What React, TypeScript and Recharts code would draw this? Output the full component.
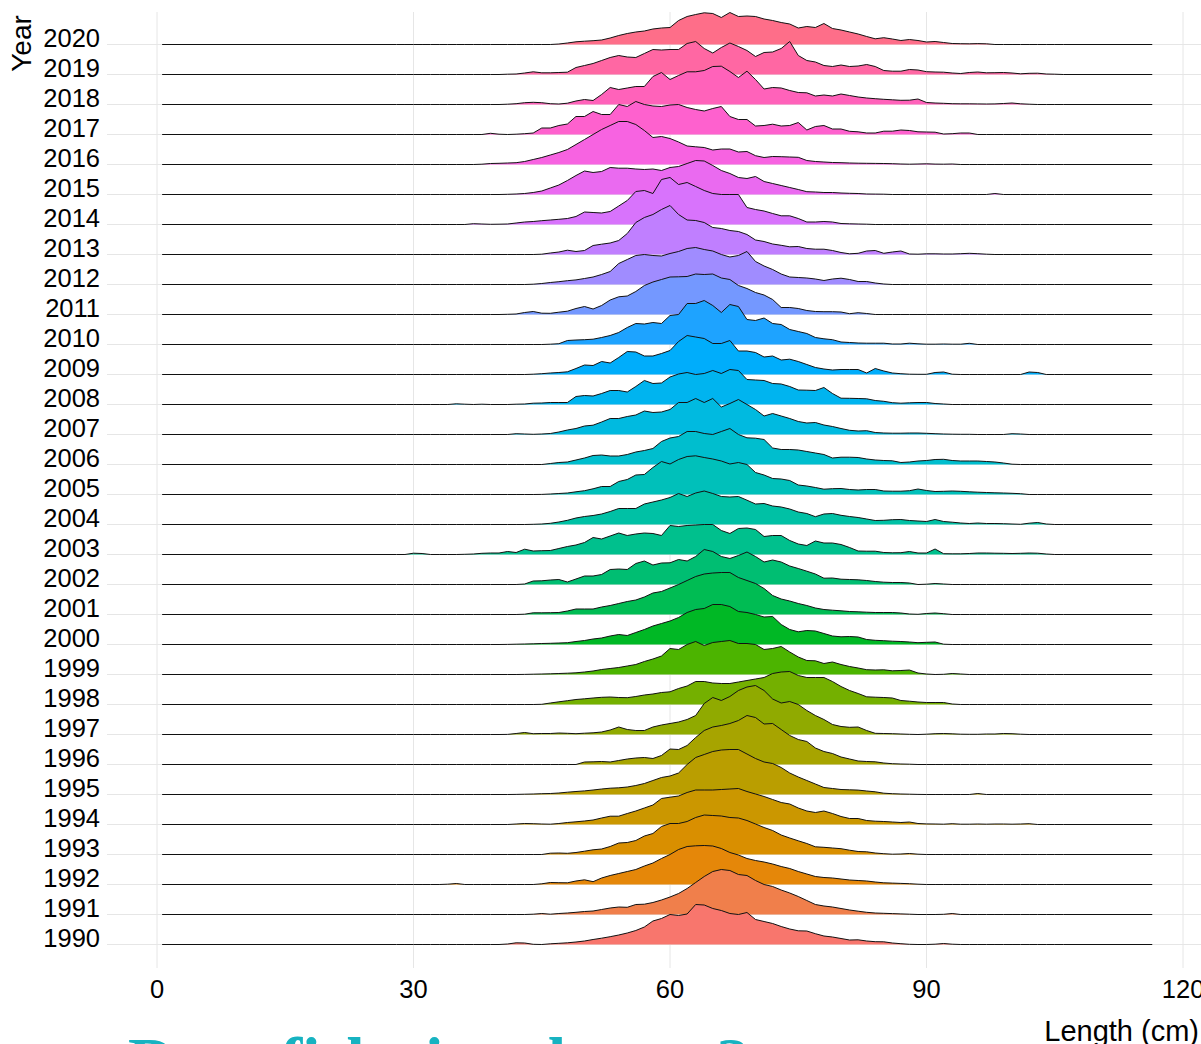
import React from "react";
import { Area, CartesianGrid, ComposedChart, Label, XAxis, YAxis } from "recharts";

// ridgeline of fish length by year; heights (px, rows 30px apart)
const years = [1990, 1991, 1992, 1993, 1994, 1995, 1996, 1997, 1998, 1999, 2000, 2001, 2002, 2003, 2004, 2005, 2006, 2007, 2008, 2009, 2010, 2011, 2012, 2013, 2014, 2015, 2016, 2017, 2018, 2019, 2020];
// first 1-cm bin of each year's array
const ridgeStart = [41, 44, 34, 45, 42, 42, 49, 41, 45, 43, 41, 43, 43, 29, 44, 45, 46, 42, 35, 44, 45, 41, 44, 45, 37, 41, 38, 38, 41, 41, 47];
const xTicks = [0, 30, 60, 90, 120];

const len1990 = [0.5,1.7,1.5,0.2,0,0.7,1.2,1.7,2.5,3.5,5,6.3,7.8,9.5,11.5,14,17.5,23.5,26,30,29,30.5,40,39.5,36,34,31,30,32,25,23,21,18,15.5,13.7,13.5,10.8,8.5,7.5,6,4.5,4.7,3.5,2.8,2.7,1.5,0.8,0.2,0,0,0.3,1,0.3,0];
const len1991 = [0.3,1,0.3,1,1.5,2.2,3,3.5,5,6.5,7.5,7.2,10,10.3,12,14.5,17.5,21,26,32,38,43,45,44,40,39,34,30,28,24.5,21.5,18,14,10,8.5,7.5,6,4.5,3.3,2.2,1.5,1.2,0.9,0.6,0.3,0,0,0,0.2,1,0];
const len1992 = [0.3,1,0,0,0,0,0,0,0,0,0,0.7,2,1.8,1.7,3.5,4.7,2.8,6.5,9,11,13,15,18.5,21.5,26,30,35,38,38.7,39,38.5,36,32,29.5,26,24,22.5,20.5,18,16,13,10.5,8,7,6.5,5.5,4.5,4,3.5,2.5,1.7,1.4,1.1,0.8,0.3,0];
const len1993 = [0,1.3,1.5,1.2,2,3.3,4.7,5.5,8,11.5,12,14,18.5,21,28,31,31,33,37,39.5,39,38.5,37,36.5,34,30.5,27,24,19.5,16.5,13.7,11,7.7,7.2,6.5,5.8,4.3,3,2.7,1.5,0.8,0.3,0.5,1,0.3,0];
const len1994 = [0.5,1,0.8,0.5,0.3,1,2,2.7,3.5,4.5,6.5,8.3,8.3,11,13.5,16.5,19.5,26,27.3,28.5,32,34.5,34.5,34.5,35,35.5,36,33,30.5,28,25,22,20.5,16.5,13.5,12,13.5,11,8,6,6,4,3.3,3,2.5,2,2.5,1,0.6,0.5,0.3,0.8,0.3,0.3,0.5,0.3,0.5,0.5,0.3,0.5,0.8,0];
const len1995 = [0.1,0.3,0.5,0.8,1,1.5,2.3,3,3.6,4.5,5.5,6.3,6.7,7.5,9,11,14,17,18.5,21.5,30,37,40,43,44.5,45,45,40.5,36,32.5,31,27,21.5,17.5,14,10.5,7,6,5,4.7,4.4,3.5,2.7,1.3,0.8,0.5,0.3,0.1,0,0,0,0,0,0,1,0];
const len1996 = [0,2.5,2.7,3,2.5,4,5.5,6.5,7,6,9,15.5,15,19,27,34,37.5,39,41,44,49,47,40.5,41,35,29,25,23,16.5,13,11,7.5,5.5,3.5,3,2.7,1.5,0.8,0.5,0.3,0];
const len1997 = [0.1,1,2,0.8,1,1,1.5,1.2,0.8,1.3,1.7,2.5,4.5,7.5,5,4,4,7.5,9.5,11,12.5,15,19,31,37,34,38,44,47.5,49,44,35.5,31.5,33,30,24,19,15,10,8,7.2,7.5,4,1.2,1,0.8,0.5,0.2,0,0.3,0.8,1,0.7,0.3,0.2,0.2,0.5,0.5,1,0.8,0.3,0];
const len1998 = [0.2,1.5,2.7,3.8,5,5.7,6.5,7.2,7.5,7,6.8,8,9.5,10.5,12,12.7,16,18.5,23,23,21.5,21,21,22.5,24,25.5,27,31,32.5,33,29,27,27,27,23,18,14,11,7.7,7.3,7,6.5,4,3.3,2.5,2,2,2,0.5,0];
const len1999 = [0.1,0.3,0.5,0.7,1,1.3,1.7,2.5,3.5,5,6,7,8.5,10,13,15.5,18.5,26,25,30,33,29,32,33,34,31,31,30,25,26,28,22.5,17.5,14,13.7,11,12.5,10,8,6.5,4.8,4.5,4.7,3.7,4,4.5,1.5,0.5,0,0.2,1,0.5,0];
const len2000 = [0.1,0.3,0.5,0.7,1,1.2,1.5,1.8,3,4,5.5,6.5,8.5,10,9,12,15,18.5,21,23.5,27,32,35,36,40,40,38,33,32,30,27.5,28,20,15,12.7,14,13.5,11,8.5,7.7,8,7.5,5,4.2,3.8,3.3,3,2.5,1.8,2.2,2.5,0.3,0];
const len2001 = [0.3,1.7,1.7,1.8,2,3.5,5.5,5.5,5.5,7.5,9,11,13,14.5,17.5,21.5,23,26.5,30,34,38,40.5,41.5,42,42,37,34,31,26,19,15.5,13.5,11,9,6.5,5,4.3,3.7,3,2.7,2.3,2,2,2,1.5,0.5,0.2,1,1.5,0.8,0];
const len2002 = [0.5,3.5,3.7,4.5,5,2.5,5.5,8.5,8.5,10,15,15.5,15,21,23.5,19.5,21.5,21.7,25,23.5,28,35,33,28,26,29,32.5,28,22.5,24.5,22.5,18.5,16,13.3,10.5,6.3,6.5,5.3,5,4.7,4,3,2.3,2,2,1.5,0,0.3,1,0.5,0];
const len2003 = [0,1.3,1,0,0,0,0,0.2,0.5,1.2,1.5,1.5,3,2,5.3,3.5,3.8,4,6,8,9.5,12,17,15.5,18.5,21.5,19,20.5,21.5,21,19,29,28,29,29.5,30,30,24,21,26,26.5,25,18,19,19,14,10.5,9,13.5,11.5,11.5,10,7,3.5,3.3,3.3,2,1.7,1.8,3,1.5,1.5,5.5,0.8,0.7,0.7,1,1.5,1.5,1.3,1.2,1,1.2,1.5,1.3,0.5,0];
const len2004 = [0.2,0.5,1.2,2.5,4.2,6.5,8,9,10.5,13,16,16,16,20.5,22.5,24.5,27,31,28,31.5,33.5,31,28,27.5,28,24.3,20.5,21,18.5,17.5,15.5,12.5,11,7.8,10.5,11,9.2,8,7,5.5,4,4.2,4.8,5,4,3.5,3,5,3,2.3,1.5,1,1.5,1,1,0.8,0.5,0.2,1.3,2,0.5,0];
const len2005 = [0.1,0.5,1,1.5,2.7,3.8,5.7,8,8,13,15,19.5,20,27,33,30.5,35,38,38.7,37,35.5,33.5,30.5,32,30,22,19.5,16,15.5,14,9.5,8.5,7,5.3,5.8,6,5,4.5,5,5,3.5,3.3,3.3,3.8,5.5,4,3,3.2,3.5,3.2,2.7,2.3,2,1.7,1.5,1.2,0.8,0];
const len2006 = [1,2,2.5,4.5,6.5,9,9.5,8.5,8.5,10,12.5,14,16,23,26.5,28,33,33,31,30,33,36,30,26.7,26.3,25,16.5,15,15,14.5,13,11.5,10,6.5,7.3,7.3,7,5.5,4.5,4,3.7,2,2.5,3.5,4,5,5.2,4,3.5,3.5,3.5,3,2.5,1.5,0.3,0];
const len2007 = [0.8,0.5,0.2,0.5,1,2.5,4.5,6,8.5,9.3,12.5,16,16,18,19.5,23.5,22,22.5,25,32,32,36,32,36,27.5,31,35,30,25,18.5,21,18.5,16,13,11.5,12,9.5,8,6,4.2,3.5,3.8,2,1.5,1.3,1.3,1.5,1.5,1.2,0.8,0.5,0.3,0.2,0.2,0,0,0,0,0.8,0.5,0];
const len2008 = [0.7,0.3,0,0.3,0,0,0,0.3,0.5,1.3,1.5,2,2,2,8,9,8.5,11,14,14,12.5,18,24,21,21.5,27.5,30.5,32,30,31,34,31,35,34,25,24.5,24,21,20.5,18,14.5,14.3,14,17,11,6.3,6.2,6,5.7,4,3.2,1.8,1.3,1.7,2,2,1,0.5,0];
const len2009 = [0.3,0.8,1.5,2,2.7,6,9.5,9,13,11.5,17,23,22.5,18.5,18.5,21,24,33,39,37.5,36,31,31,34,23.5,23.5,22,17.5,18.5,14.5,15.3,13,10,7,5.5,4.5,5,5,5,1.5,6,3.5,1.5,0.8,0.3,0.2,0.2,2,2.5,0.3,0,0,0,0,0,0,0,0,2.5,2,0];
const len2010 = [0,0.3,0.8,4,4.5,4.8,5.3,7,9,12,17,21,20.5,22,21,29,30,41,41,44,39,32,40,38,25,24,26.5,21,20,15,13,11,7,5.7,4.8,2.5,2,1.5,1.3,1.3,1.3,0.5,0.5,1.3,0.7,0.3,0.3,0.5,0.3,0.3,1.2,0];
const len2011 = [0.2,0.5,2,3,1.3,1.2,2.3,3.3,6,8,5.5,9,14.5,17.7,18.5,23,29,32.5,35,37.5,37.7,38,40.5,40,40.5,36.5,35,29,26,22,19.5,15,7,7,6,4,3,2.8,2.8,2.5,0.8,1.8,1,0];
const len2012 = [0.3,1,2,2.8,3.8,4.6,6,7.5,10,13,21,25,29,30,29,28.5,31,33,36,37,35,33.5,30,27.5,29,33,23,18.5,15,10.5,7.5,7,6.5,5.5,4,5.5,6.3,5,3,3,1.5,0.5,0];
const len2013 = [0.3,1.5,2.5,4.3,3,4,9,10.3,11.5,14,21,32,37,40,45,49,40,34.5,34,32,27,26,24,23,20,14.5,13,10.5,9.2,7.7,8,6,5.3,5.3,4,2,0.7,1.2,3.5,4,1.2,2.5,3.5,0.5,0.3,0.7,0.7,0.5,0.5,0.8,1.2,0.8,0.3,0];
const len2014 = [0.8,0.5,0.2,0.3,0.5,1.5,2.5,3,3.8,4.5,5.2,6,8,12.5,12,11.5,13,18.5,24,33,34,31,45,47,40,42,38,34,31,30,30,30,17,15,13.5,11,8.7,8.7,6,2.5,2.5,3,2.5,1,0.7,0.5,0.3,0];
const len2015 = [0.2,0.5,1,2,3.5,6.5,9.5,14,19,23.5,22,23,27,26.3,26.3,25.5,25,25.5,24,27,28,31,34,33.5,29,24,21,17,16,18,13,11,9,7,5,2.8,2.5,2,2,1.5,1.2,1,0.5,0.4,0.3,0,0,0,0,0,0,0,0,0,0,0,0,1,0];
const len2016 = [0.3,1,1.2,1.5,1.8,3,5,7,9.5,12,15,20,25,30,35,39,43,43,40,34,27,28,26,22.5,18.5,17.7,17,14.5,15.5,15.5,12.5,13,8.8,7,8,7.8,7.5,7.2,4,3,2.5,2,1.8,1.5,1.3,1.2,1.1,1,0.8,0.5,0.3,0.5,0.7,0.4,0.3,0.5,0];
const len2017 = [0,1.2,0.3,0,0.3,0.8,1.5,6.5,6.5,9,10.5,18,18,23,20,20,30,28,33,30,28.5,28,29.5,30,27,25,23.5,26,28,18,15,15,8.5,9,10.3,8.5,9,12,4.5,8,9,5.5,5.5,3.2,2.7,1.5,1.5,3.3,3.3,4.5,4,2.7,2.5,2.3,0.5,0.8,1.5,1.5,0];
const len2018 = [0.3,0.8,1.8,2.2,1.8,0.8,0.5,1.3,3.5,5,4,10,17,15,16.5,18,18,28,32,25,29,32.7,32.7,34,38,38.3,33,27,33.3,25,15.5,17,16.5,14,12,11.7,8.5,9.5,8.5,10.5,9,7.5,6.5,5.8,5.2,4.7,4.2,4.3,5.5,2,1.5,1.2,0.8,0.7,0.7,0.6,0.5,0.6,1,1.5,0.7,0.3,0];
const len2019 = [0.3,0.5,1.5,2.7,1.7,1.7,2,2.3,7,9,11,14,17,19,17.5,17,21,25,24.5,25,25,31,33,26,21.5,27,31.5,28,24,18,22,22.5,26,33,19,14,12.5,9,8,9.5,8,8.5,10,8,4,3.3,3.3,5,4.5,2.8,2.5,2.3,1.5,1,2,2.5,1.7,1.8,2,1.5,0.7,1.2,1.3,0.5,0.3,0];
const len2020 = [0.5,1.5,2.7,3.3,3.8,4.5,6.5,9,11,12.5,13.5,15.5,16.5,17,24,28,30,31.7,31,27,32,28,28.5,28,25.5,24,22,20.5,16.5,18,17,21,16,14.5,12.5,10.5,8,5.7,6.8,5.5,4,5,4,2.5,3,2,1,0.8,0.7,0.9,0.7,0];

const ridges = [len1990, len1991, len1992, len1993, len1994, len1995, len1996, len1997, len1998, len1999, len2000, len2001, len2002, len2003, len2004, len2005, len2006, len2007, len2008, len2009, len2010, len2011, len2012, len2013, len2014, len2015, len2016, len2017, len2018, len2019, len2020];

const ROW = 30;
const X_DOMAIN = [-5.848, 122.1];
const Y_DOMAIN = [-23.5, 932.5];
const bins = Array.from({ length: 79 }, (_, i) => 28 + i);
const xs = [0.6, ...bins, 116.4];

const chartData = xs.map((x) => {
  const row: Record<string, number> = { x };
  years.forEach((yr, i) => {
    const k = x - ridgeStart[i];
    const h = Number.isInteger(x) && k >= 0 && k < ridges[i].length ? ridges[i][k] : 0;
    row[`r${yr}`] = i * ROW + h;
  });
  return row;
});

// ggplot's default hue palette (hcl, l=65, c=100)
function huePal(i: number, n: number) {
  const h = 15 + (360 / n) * i;
  const l = 65, c = 100;
  const hr = (h * Math.PI) / 180;
  const U = c * Math.cos(hr), V = c * Math.sin(hr);
  const Y = Math.pow((l + 16) / 116, 3);
  const Xn = 0.95047, Yn = 1, Zn = 1.08883;
  const den = Xn + 15 * Yn + 3 * Zn;
  const u = U / (13 * l) + (4 * Xn) / den;
  const v = V / (13 * l) + (9 * Yn) / den;
  const X = (9 * Y * u) / (4 * v);
  const Z = (Y * (12 - 3 * u - 20 * v)) / (4 * v);
  const lin = [
    3.2404542 * X - 1.5371385 * Y - 0.4985314 * Z,
    -0.969266 * X + 1.8760108 * Y + 0.041556 * Z,
    0.0556434 * X - 0.2040259 * Y + 1.0572252 * Z,
  ];
  return "#" + lin.map((ch) => {
    const g = ch <= 0.0031308 ? 12.92 * ch : 1.055 * Math.pow(ch, 1 / 2.4) - 0.055;
    return Math.round(Math.max(0, Math.min(1, g)) * 255).toString(16).padStart(2, "0");
  }).join("");
}

const SANS = "'Liberation Sans', Arial, sans-serif";

const YearTick = (props: any) => (
  <text x={100} y={props.y + 2.2} textAnchor="end" fontSize={25.5} fontFamily={SANS} fill="#000">
    {1990 + Math.round(props.payload.value / ROW)}
  </text>
);

const LengthTick = (props: any) => (
  <text x={props.x} y={998} textAnchor="middle" fontSize={25.5} fontFamily={SANS} fill="#000">
    {props.payload.value}
  </text>
);

// grid only at the tick values (no frame round the panel)
const hGrid = ({ offset }: any) => {
  const o = offset ?? { top: 12, height: 956 };
  return years.map((_, i) => o.top + ((Y_DOMAIN[1] - i * ROW) * o.height) / (Y_DOMAIN[1] - Y_DOMAIN[0]));
};
const vGrid = ({ offset }: any) => {
  const o = offset ?? { left: 107, width: 1094 };
  return xTicks.map((t) => o.left + ((t - X_DOMAIN[0]) * o.width) / (X_DOMAIN[1] - X_DOMAIN[0]));
};

export default function App() {
  const yTicks = years.map((_, i) => i * ROW);
  const order = years.map((yr, i) => ({ yr, i })).reverse();

  return (
    <div style={{ position: "relative", width: 1201, height: 1044, overflow: "hidden", background: "#fff" }}>
      <style>{"body{margin:0}"}</style>
      <ComposedChart width={1201} height={1044} data={chartData} margin={{ top: 12, right: 0, bottom: 36, left: 0 }}>
        <CartesianGrid
          stroke="#e6e6e6"
          strokeWidth={1}
          horizontalCoordinatesGenerator={hGrid}
          verticalCoordinatesGenerator={vGrid}
        />
        <XAxis
          type="number"
          dataKey="x"
          domain={X_DOMAIN}
          ticks={xTicks}
          interval={0}
          allowDataOverflow
          axisLine={false}
          tickLine={false}
          height={40}
          tick={LengthTick}
        >
          <Label
            content={() => (
              <text x={1199} y={1041} textAnchor="end" fontSize={29} fontFamily={SANS} fill="#000">
                Length (cm)
              </text>
            )}
          />
        </XAxis>
        <YAxis
          type="number"
          domain={Y_DOMAIN}
          ticks={yTicks}
          interval={0}
          allowDataOverflow
          axisLine={false}
          tickLine={false}
          width={107}
          tick={YearTick}
        >
          <Label
            content={() => (
              <text x={31} y={43.5} transform="rotate(-90 31 43.5)" textAnchor="middle" fontSize={28} fontFamily={SANS} fill="#000">
                Year
              </text>
            )}
          />
        </YAxis>
        {order.map(({ yr, i }) => (
          <Area
            key={yr}
            type="linear"
            dataKey={`r${yr}`}
            baseValue={i * ROW}
            stroke="#111"
            strokeWidth={1}
            fill={huePal(i, years.length)}
            fillOpacity={1}
            dot={false}
            activeDot={false}
            isAnimationActive={false}
          />
        ))}
      </ComposedChart>
      <div
        style={{
          position: "absolute",
          left: 128,
          top: 1028,
          fontFamily: "'Liberation Serif', 'DejaVu Serif', serif",
          fontWeight: 700,
          fontSize: 66,
          lineHeight: 1,
          color: "#17b3c1",
          whiteSpace: "nowrap",
        }}
      >
        Does fish size change?
      </div>
    </div>
  );
}
